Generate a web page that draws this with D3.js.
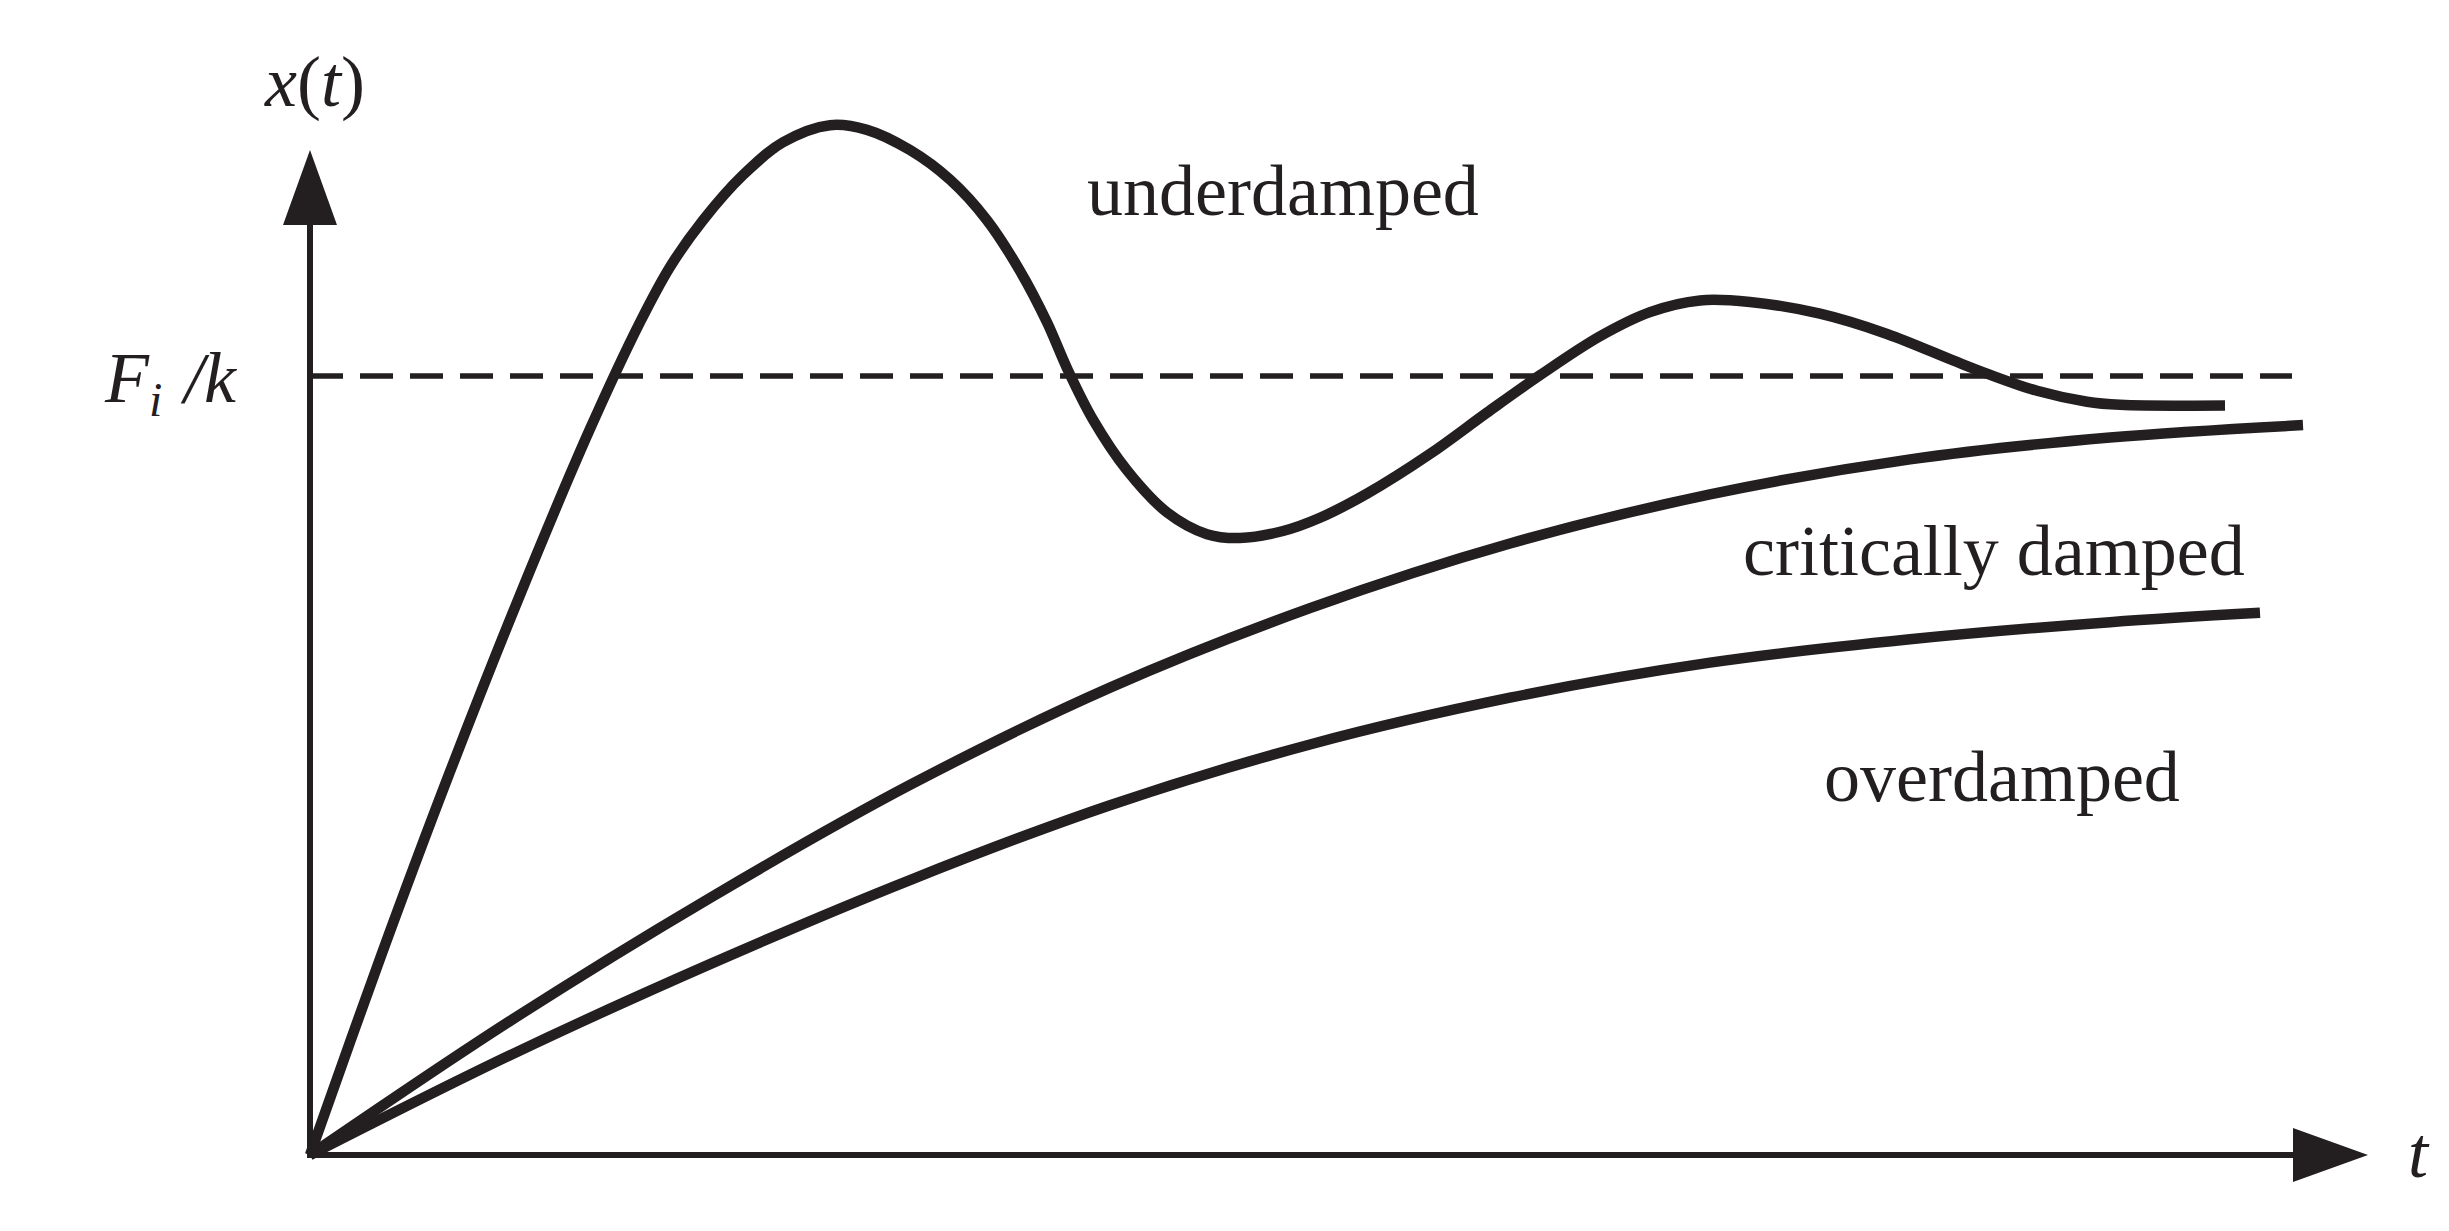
<!DOCTYPE html>
<html lang="en">
<head>
<meta charset="UTF-8">
<title>Damping</title>
<style>
body { margin: 0; background: #fff; }
.curve { fill: none; stroke: #231f20; stroke-width: 10.5; stroke-linecap: butt; stroke-linejoin: round; }
.axis-line { stroke: #231f20; stroke-width: 6; }
.level { stroke: #231f20; stroke-width: 5.5; stroke-dasharray: 33 17; }
.lbl { font-family: 'Liberation Serif', 'Times New Roman', serif; font-size: 72px; fill: #231f20; }
.it { font-style: italic; }
</style>
</head>
<body>
<script src="https://cdn.jsdelivr.net/npm/d3@7/dist/d3.min.js"></script>
<script>
// [t, x(t)], x in units of Fi/k
const underdamped = [
    [0, 0], [0.35, 0.252], [0.70, 0.492], [1.05, 0.719], [1.40, 0.932],
    [1.65, 1.069], [1.80, 1.140], [1.965, 1.200], [2.165, 1.258],
    [2.365, 1.300], [2.60, 1.322], [2.785, 1.316], [3.00, 1.290], [3.20, 1.252],
    [3.385, 1.200], [3.55, 1.135], [3.685, 1.069], [3.785, 1.010], [3.915, 0.944],
    [4.085, 0.879], [4.285, 0.825], [4.485, 0.797], [4.65, 0.792], [4.865, 0.801],
    [5.05, 0.818], [5.285, 0.849], [5.60, 0.900], [5.885, 0.953], [6.15, 1.001],
    [6.45, 1.051], [6.70, 1.082], [6.95, 1.097], [7.20, 1.095], [7.55, 1.080],
    [7.885, 1.054], [8.215, 1.020], [8.385, 1.003], [8.635, 0.981], [8.885, 0.967],
    [9.05, 0.963], [9.575, 0.962]
];
const critical = [
    [0, 0], [1, 0.172], [2, 0.330], [3, 0.475], [4, 0.600], [5, 0.702],
    [6, 0.785], [7, 0.848], [8, 0.893], [9, 0.921], [9.965, 0.937]
];
const overdamped = [
    [0, 0], [1, 0.128], [2, 0.245], [3, 0.353], [4, 0.449], [5, 0.527],
    [6, 0.587], [7, 0.632], [8, 0.662], [9, 0.684], [9.75, 0.696]
];
const steadyLevel = 1;       // Fi/k
const levelEnd = 9.91;       // where the dashed line stops
const tAxisMax = 10.29;      // tip of the t arrow
const xAxisMax = 1.29;       // tip of the x(t) arrow

// curve labels: [text, t, x]
const curveLabels = [
    ['underdamped', 3.885, 1.207],
    ['critically damped', 7.165, 0.745],
    ['overdamped', 7.57, 0.455]
];

let width = 2449, height = 1231;
let ink = '#231f20';

let svg = d3.select('body').append('svg')
    .attr('width', width)
    .attr('height', height);

let t = d3.scaleLinear().domain([0, 10]).range([310, 2310]);
let x = d3.scaleLinear().domain([0, 1]).range([1155, 376]);

let arrowLen = 75, arrowHalf = 27;

// axes
svg.append('line').attr('class', 'axis-line')
    .attr('x1', t(0)).attr('y1', x(0) + 3)
    .attr('x2', t(0)).attr('y2', x(xAxisMax) + arrowLen - 2);
svg.append('line').attr('class', 'axis-line')
    .attr('x1', t(0) - 3).attr('y1', x(0))
    .attr('x2', t(tAxisMax) - arrowLen + 2).attr('y2', x(0));

svg.append('path')
    .attr('fill', ink)
    .attr('d', `M${t(0)},${x(xAxisMax)} L${t(0) + arrowHalf},${x(xAxisMax) + arrowLen} L${t(0) - arrowHalf},${x(xAxisMax) + arrowLen} Z`);
svg.append('path')
    .attr('fill', ink)
    .attr('d', `M${t(tAxisMax)},${x(0)} L${t(tAxisMax) - arrowLen},${x(0) - arrowHalf} L${t(tAxisMax) - arrowLen},${x(0) + arrowHalf} Z`);

// Fi/k level
svg.append('line').attr('class', 'level')
    .attr('x1', t(0)).attr('y1', x(steadyLevel))
    .attr('x2', t(levelEnd)).attr('y2', x(steadyLevel));

let line = d3.line()
    .x(d => t(d[0]))
    .y(d => x(d[1]))
    .curve(d3.curveCatmullRom.alpha(0.5));

svg.selectAll('.curve')
    .data([underdamped, critical, overdamped])
    .enter()
    .append('path')
    .attr('class', 'curve')
    .attr('d', line);

svg.selectAll('.curveLabel')
    .data(curveLabels)
    .enter()
    .append('text')
    .attr('class', 'lbl curveLabel')
    .attr('x', d => t(d[1]))
    .attr('y', d => x(d[2]))
    .text(d => d[0]);

// axis titles
let yTitle = svg.append('text').attr('class', 'lbl').attr('x', 265).attr('y', 106);
yTitle.append('tspan').attr('class', 'it').text('x');
yTitle.append('tspan').text('(');
yTitle.append('tspan').attr('class', 'it').text('t');
yTitle.append('tspan').text(')');

svg.append('text').attr('class', 'lbl it')
    .attr('x', 2408).attr('y', 1177)
    .text('t');

let level = svg.append('text').attr('class', 'lbl').attr('x', 105).attr('y', 402);
level.append('tspan').attr('class', 'it').text('F');
level.append('tspan').attr('class', 'it')
    .attr('font-size', 48).attr('dy', 14).text('i');
level.append('tspan').attr('class', 'it')
    .attr('x', 184).attr('dy', -14).text('/k');
</script>
</body>
</html>
